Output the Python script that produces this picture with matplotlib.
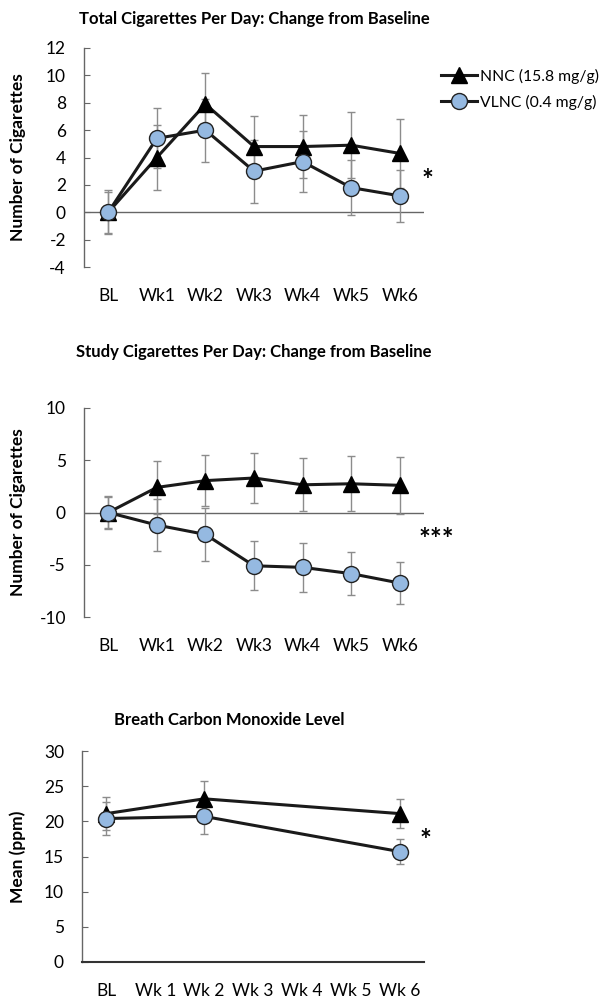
import numpy as np
import matplotlib.pyplot as plt

plt.rcParams['font.family'] = ['Lato', 'DejaVu Sans']
plt.rcParams['axes.unicode_minus'] = False

weeks = ['BL', 'Wk1', 'Wk2', 'Wk3', 'Wk4', 'Wk5', 'Wk6']
weeks_co = ['BL', 'Wk 1', 'Wk 2', 'Wk 3', 'Wk 4', 'Wk 5', 'Wk 6']

# total cigarettes per day, change from baseline
tot_nnc = [0, 4.0, 7.9, 4.8, 4.8, 4.9, 4.3]
tot_nnc_err = [1.6, 2.4, 2.3, 2.2, 2.3, 2.4, 2.5]
tot_vlnc = [0, 5.4, 6.0, 3.0, 3.7, 1.8, 1.2]
tot_vlnc_err = [1.5, 2.2, 2.3, 2.3, 2.2, 2.0, 1.9]

# study cigarettes per day, change from baseline
std_nnc = [0, 2.4, 3.05, 3.3, 2.65, 2.75, 2.6]
std_nnc_err = [1.5, 2.5, 2.45, 2.4, 2.55, 2.65, 2.7]
std_vlnc = [0, -1.2, -2.1, -5.1, -5.25, -5.85, -6.75]
std_vlnc_err = [1.6, 2.5, 2.5, 2.35, 2.35, 2.05, 2.0]

# breath CO, measured at BL, Wk 2, Wk 6
co_idx = [0, 2, 6]
co_nnc = [21.1, 23.2, 21.1]
co_nnc_err = [2.3, 2.6, 2.1]
co_vlnc = [20.4, 20.7, 15.7]
co_vlnc_err = [2.3, 2.5, 1.75]

blue = '#95B9E1'
grey = '#8c8c8c'
axcol = '#666666'

fig = plt.figure(figsize=(6.16, 10), dpi=100)


def draw(ax, x, nnc, nnc_err, vlnc, vlnc_err):
    ax.errorbar(x, nnc, yerr=nnc_err, fmt='none', ecolor=grey, elinewidth=1, capsize=3, capthick=1, zorder=1)
    ax.errorbar(x, vlnc, yerr=vlnc_err, fmt='none', ecolor=grey, elinewidth=1, capsize=3, capthick=1, zorder=1)
    l1, = ax.plot(x, nnc, color='#1a1a1a', lw=2.2, marker='^', ms=11, mfc='black', mec='black', zorder=3,
                  label='NNC (15.8 mg/g)')
    l2, = ax.plot(x, vlnc, color='#1a1a1a', lw=2.2, marker='o', ms=11.5, mfc=blue, mec='#222222', mew=1, zorder=4,
                  label='VLNC (0.4 mg/g)')
    return l1, l2


def style(ax, ylabel, labels, lx):
    ax.set_xlim(-0.5, 6.5)
    ax.set_xticks(range(7))
    ax.set_xticklabels(labels)
    for s in ['top', 'right']:
        ax.spines[s].set_visible(False)
    ax.spines['left'].set_color(axcol)
    ax.spines['left'].set_linewidth(1)
    ax.tick_params(axis='y', direction='in', length=4, color=axcol, labelsize=12.5, pad=13)
    ax.tick_params(axis='x', length=0, labelsize=12.5, pad=15)
    ax.set_ylabel(ylabel, fontsize=12.5, fontweight='bold')
    ax.yaxis.set_label_coords(lx, 0.5)


# panel 1
ax1 = fig.add_axes([84 / 616, 1 - 267 / 1000, 340 / 616, 219 / 1000])
l1, l2 = draw(ax1, range(7), tot_nnc, tot_nnc_err, tot_vlnc, tot_vlnc_err)
ax1.axhline(0, color=axcol, lw=1, zorder=0)
ax1.set_ylim(-4, 12)
ax1.set_yticks(range(-4, 13, 2))
ax1.spines['bottom'].set_visible(False)
style(ax1, 'Number of Cigarettes', weeks, -0.17)
ax1.set_title('Total Cigarettes Per Day: Change from Baseline', fontsize=12, fontweight='bold', pad=17)
ax1.text(6.57, 2.3, '*', fontsize=20, fontweight='bold', ha='center', va='center', clip_on=False)
fig.legend(handles=[l1, l2], loc='center left', bbox_to_anchor=(441 / 616, 1 - 89 / 1000),
           frameon=False, fontsize=11.3, handlelength=2.3, handletextpad=0.2, labelspacing=0.7,
           borderpad=0, borderaxespad=0)

# panel 2
ax2 = fig.add_axes([84 / 616, 1 - 617 / 1000, 340 / 616, 209 / 1000])
draw(ax2, range(7), std_nnc, std_nnc_err, std_vlnc, std_vlnc_err)
ax2.axhline(0, color=axcol, lw=1, zorder=0)
ax2.set_ylim(-10, 10)
ax2.set_yticks([-10, -5, 0, 5, 10])
ax2.spines['bottom'].set_visible(False)
style(ax2, 'Number of Cigarettes', weeks, -0.17)
ax2.set_title('Study Cigarettes Per Day: Change from Baseline', fontsize=12, fontweight='bold', pad=37)
ax2.text(6.75, -2.6, '***', fontsize=20, fontweight='bold', ha='center', va='center', clip_on=False)

# panel 3
ax3 = fig.add_axes([82 / 616, 1 - 962 / 1000, 342 / 616, 211 / 1000])
draw(ax3, co_idx, co_nnc, co_nnc_err, co_vlnc, co_vlnc_err)
ax3.set_ylim(0, 30)
ax3.set_yticks(range(0, 31, 5))
ax3.spines['bottom'].set_color('#333333')
ax3.spines['bottom'].set_linewidth(1.5)
style(ax3, 'Mean (ppm)', weeks_co, -0.164)
ax3.set_title('Breath Carbon Monoxide Level', fontsize=12, fontweight='bold', pad=19, x=0.43)
ax3.text(6.52, 17.2, '*', fontsize=20, fontweight='bold', ha='center', va='center', clip_on=False)

fig.savefig('out.png', dpi=100)
